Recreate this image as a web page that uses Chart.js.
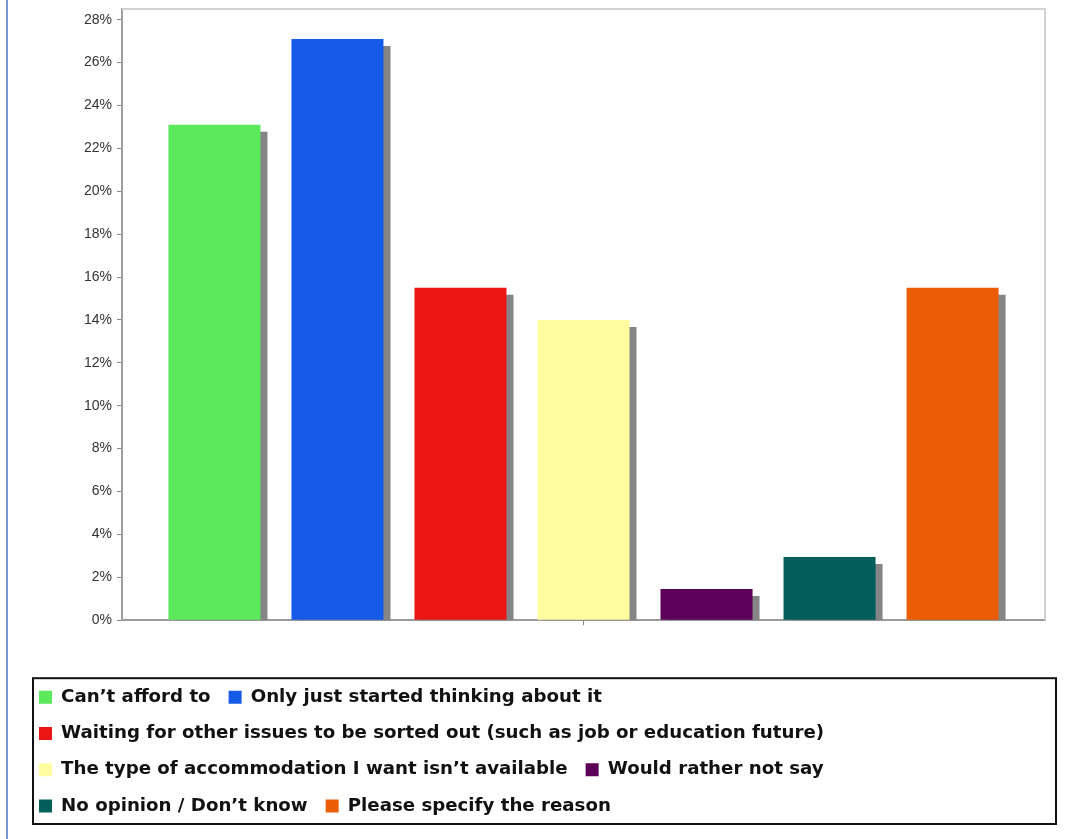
<!DOCTYPE html>
<html>
<head>
<meta charset="utf-8">
<script src="https://cdn.jsdelivr.net/npm/chart.js@4/dist/chart.umd.min.js"></script>
<style>
  html, body { margin: 0; padding: 0; background: #ffffff; }
  #wrap { position: relative; width: 1073px; height: 839px; }
  #edge { position: absolute; left: 6px; top: 0; width: 2px; height: 839px; background: #7399d3; }
  canvas { display: block; }
</style>
</head>
<body>
<div id="wrap">
  <canvas id="c" width="1073" height="839"></canvas>
  <div id="edge"></div>
</div>
<script>
// ---- data ----
const categories = [''];
const seriesNames = [
  'Can’t afford to',
  'Only just started thinking about it',
  'Waiting for other issues to be sorted out (such as job or education future)',
  'The type of accommodation I want isn’t available',
  'Would rather not say',
  'No opinion / Don’t know',
  'Please specify the reason'
];
const seriesValues = [23.1, 27.1, 15.5, 14.0, 1.45, 2.95, 15.5];
const seriesColors = ['#5ce95c', '#155be8', '#ea1515', '#fffd9f', '#5c005a', '#035f5c', '#eb5d02'];
const yTickValues = [0, 2, 4, 6, 8, 10, 12, 14, 16, 18, 20, 22, 24, 26, 28];

// ---- plugins ----
const framePlugin = {
  id: 'frame',
  beforeDatasetsDraw(chart) {
    const {ctx, chartArea: a} = chart;
    ctx.save();
    ctx.strokeStyle = '#d2d2d2';
    ctx.lineWidth = 2;
    ctx.beginPath();
    ctx.moveTo(a.left, a.top);
    ctx.lineTo(a.right, a.top);
    ctx.lineTo(a.right, a.bottom);
    ctx.stroke();
    ctx.restore();
  },
  afterDraw(chart) {
    const lg = chart.legend;
    if (!lg) return;
    const ctx = chart.ctx;
    ctx.save();
    ctx.strokeStyle = '#111111';
    ctx.lineWidth = 2;
    ctx.strokeRect(lg.left + 12, lg.top + 8, lg.width - 1, lg.height - 9);
    ctx.restore();
  }
};

const shadowPlugin = {
  id: 'barShadow',
  beforeDatasetsDraw(chart) {
    const ctx = chart.ctx;
    ctx.save();
    ctx.shadowColor = '#858585';
    ctx.shadowOffsetX = 7;
    ctx.shadowOffsetY = 7;
    ctx.shadowBlur = 0;
  },
  afterDatasetsDraw(chart) {
    chart.ctx.restore();
  }
};

// ---- chart ----
const datasets = seriesNames.map((name, i) => ({
  label: name,
  data: [seriesValues[i]],
  backgroundColor: seriesColors[i],
  borderWidth: 0,
  clip: 0,
  categoryPercentage: 0.933,
  barPercentage: 0.748
}));

new Chart(document.getElementById('c'), {
  type: 'bar',
  data: { labels: categories, datasets },
  options: {
    responsive: false,
    animation: false,
    layout: { padding: { left: 21, right: 28, top: 9, bottom: 14 } },
    plugins: {
      tooltip: { enabled: false },
      legend: {
        position: 'bottom',
        align: 'start',
        labels: {
          boxWidth: 13,
          boxHeight: 13,
          padding: 18,
          color: '#111111',
          font: { family: 'DejaVu Sans', size: 18.2, weight: 'bold' }
        }
      }
    },
    scales: {
      x: {
        grid: { display: true, drawOnChartArea: false, offset: false, tickLength: 5, color: '#888888' },
        border: { display: true, color: '#9a9a9a', width: 2 },
        ticks: { display: false },
        afterFit(scale) { scale.height = 50; }
      },
      y: {
        min: 0,
        max: 28.5,
        afterBuildTicks(scale) {
          scale.ticks = yTickValues.map(v => ({ value: v }));
        },
        grid: { display: true, drawOnChartArea: false, tickLength: 5, color: '#888888' },
        border: { display: true, color: '#a0a0a0', width: 2 },
        ticks: {
          padding: 5,
          color: '#333333',
          font: { family: 'Liberation Sans', size: 14 },
          callback: v => v + '%'
        },
        afterFit(scale) {
          scale.width = 101;
          scale.paddingTop = 0;
          scale.paddingBottom = 0;
        }
      }
    }
  },
  plugins: [framePlugin, shadowPlugin]
});
</script>
</body>
</html>
